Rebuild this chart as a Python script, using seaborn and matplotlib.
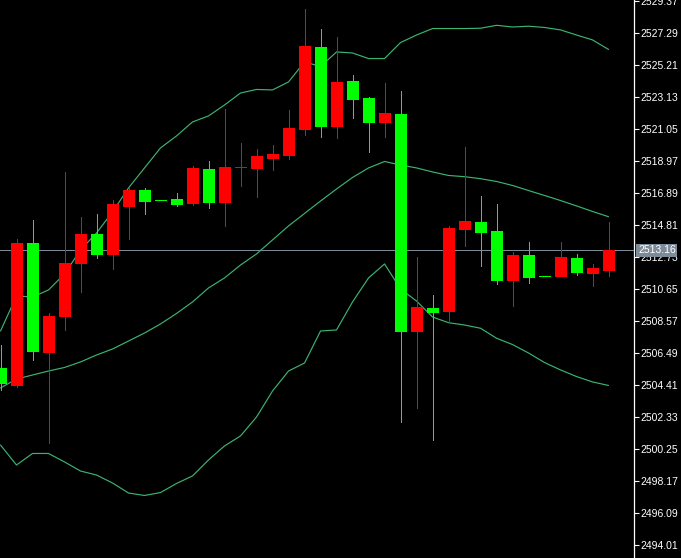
import matplotlib
matplotlib.use("Agg")
import matplotlib.pyplot as plt
import matplotlib.transforms as mtransforms
import numpy as np
import pandas as pd
import seaborn as sns

# ---- data ----
opens = [2505.53, 2504.41, 2513.66, 2506.57, 2508.90, 2512.36, 2514.24, 2512.94, 2516.06, 2517.09,
         2516.42, 2516.50, 2516.22, 2518.45, 2516.32, 2518.56, 2518.53, 2519.18, 2519.36, 2521.05,
         2526.38, 2521.25, 2524.17, 2523.07, 2521.51, 2522.03, 2507.94, 2509.42, 2509.24, 2514.55,
         2515.01, 2514.42, 2511.24, 2512.86, 2511.48, 2511.50, 2512.67, 2511.69, 2511.89]
highs = [2507.01, 2513.90, 2515.14, 2509.11, 2518.26, 2515.35, 2515.53, 2516.44, 2517.30, 2517.23,
         2516.42, 2516.91, 2518.65, 2518.97, 2522.35, 2520.14, 2519.75, 2520.01, 2522.29, 2528.85,
         2527.55, 2527.03, 2524.56, 2523.13, 2524.04, 2523.52, 2512.73, 2510.26, 2514.75, 2519.88,
         2516.70, 2516.18, 2513.06, 2513.71, 2511.48, 2513.71, 2512.93, 2512.28, 2515.01]
lows = [2504.09, 2504.30, 2506.04, 2500.66, 2507.99, 2510.47, 2512.68, 2511.93, 2513.90, 2515.53,
        2516.42, 2516.05, 2516.11, 2515.93, 2514.76, 2517.35, 2516.63, 2518.39, 2519.10, 2520.66,
        2520.53, 2520.48, 2521.77, 2519.56, 2520.53, 2502.02, 2502.93, 2500.84, 2508.52, 2513.46,
        2512.16, 2510.99, 2509.56, 2511.06, 2511.48, 2511.50, 2511.56, 2510.85, 2511.50]
closes = [2504.52, 2513.66, 2506.62, 2508.91, 2512.36, 2514.24, 2512.94, 2516.19, 2517.09, 2516.39,
          2516.42, 2516.18, 2518.53, 2516.32, 2518.60, 2518.57, 2519.30, 2519.44, 2521.12, 2526.45,
          2521.25, 2524.11, 2523.00, 2521.51, 2522.09, 2507.94, 2509.48, 2509.16, 2514.62, 2515.07,
          2514.36, 2511.24, 2512.86, 2511.43, 2511.48, 2512.73, 2511.76, 2512.02, 2513.16]

upper_band = [2507.92, 2510.20, 2510.13, 2510.59, 2511.63, 2513.19, 2514.29, 2515.66, 2517.22, 2518.52,
              2519.82, 2520.60, 2521.51, 2521.90, 2522.61, 2523.39, 2523.62, 2523.59, 2524.11, 2525.41,
              2525.11, 2526.06, 2525.99, 2525.63, 2525.63, 2526.67, 2527.16, 2527.58, 2527.58, 2527.58,
              2527.60, 2527.79, 2527.68, 2527.73, 2527.65, 2527.49, 2527.16, 2526.84, 2526.22]
middle_band = [2504.22, 2504.80, 2505.06, 2505.32, 2505.55, 2505.91, 2506.36, 2506.75, 2507.27, 2507.79,
               2508.38, 2509.06, 2509.81, 2510.72, 2511.37, 2512.21, 2512.93, 2513.84, 2514.75, 2515.56,
               2516.37, 2517.15, 2517.90, 2518.52, 2518.94, 2518.71, 2518.52, 2518.26, 2518.03, 2517.95,
               2517.82, 2517.64, 2517.38, 2517.05, 2516.73, 2516.40, 2516.05, 2515.69, 2515.35]
lower_band = [2500.51, 2499.21, 2499.96, 2499.96, 2499.41, 2498.82, 2498.56, 2498.04, 2497.39, 2497.23,
              2497.42, 2498.01, 2498.50, 2499.54, 2500.45, 2501.10, 2502.33, 2504.02, 2505.32, 2505.84,
              2507.92, 2507.99, 2509.81, 2511.37, 2512.28, 2510.65, 2509.87, 2508.83, 2508.46, 2508.31,
              2508.10, 2507.45, 2507.04, 2506.49, 2505.87, 2505.39, 2504.96, 2504.61, 2504.38]

tick_labels = ["2494.01", "2496.09", "2498.17", "2500.25", "2502.33", "2504.41", "2506.49", "2508.57",
               "2510.65", "2512.73", "2514.81", "2516.89", "2518.97", "2521.05", "2523.13", "2525.21",
               "2527.29", "2529.37"]
current_label = "2513.16"

# ---- styling ----
sns.set_style("dark")
plt.rcParams["font.family"] = ["Liberation Sans", "DejaVu Sans"]

UP = "#ff0000"
DOWN = "#00ff00"
BAND = "#3cb371"
PRICE_LINE = "#7d8b99"

n = len(opens)
idx = np.arange(n)
df = pd.DataFrame({"i": idx, "open": opens, "high": highs, "low": lows, "close": closes,
                   "upper": upper_band, "middle": middle_band, "lower": lower_band})

fig = plt.figure(figsize=(6.81, 5.58), dpi=100, facecolor="black")
ax = fig.add_axes([0, 0, 634 / 681, 1])
ax.set_facecolor("black")

# Bollinger bands
for col in ["upper", "middle", "lower"]:
    sns.lineplot(data=df, x="i", y=col, ax=ax, color=BAND, linewidth=0.85, zorder=2)

# candles
colors = [UP if c > o else DOWN for o, c in zip(opens, closes)]
ax.vlines(idx, lows, highs, colors=colors, linewidth=0.72, zorder=3, antialiased=False)
bottoms = np.minimum(opens, closes)
heights = np.abs(np.array(closes) - np.array(opens))
ax.bar(idx, heights, bottom=bottoms, width=0.64, color=colors, edgecolor=colors,
       linewidth=0.7, zorder=4, antialiased=False)

# current price line + label
ax.axhline(closes[-1], color=PRICE_LINE, linewidth=0.72, zorder=1, antialiased=False)
trans = mtransforms.blended_transform_factory(ax.transAxes, ax.transData)
ax.text(1 + 4 / 634, closes[-1], current_label, transform=trans, ha="left", va="center",
        fontsize=7.5, color="white", clip_on=False, zorder=10,
        bbox=dict(boxstyle="square,pad=0.15", fc=PRICE_LINE, ec="none"))

# axes
ax.set_xlim(-0.03125, 39.59)
ax.set_ylim(2493.166, 2529.435)
ax.set_xlabel("")
ax.set_ylabel("")
ax.grid(False)
ax.set_xticks([])
ax.yaxis.tick_right()
ax.set_yticks([float(t) for t in tick_labels])
ax.set_yticklabels(tick_labels)
ax.tick_params(axis="y", colors="white", labelcolor="white", direction="out", length=3.5,
               width=0.8, pad=1, labelsize=7.5)
for side in ["left", "top", "bottom"]:
    ax.spines[side].set_visible(False)
ax.spines["right"].set_visible(True)
ax.spines["right"].set_color("white")
ax.spines["right"].set_linewidth(0.9)

fig.savefig("out.png", dpi=100, facecolor="black")
